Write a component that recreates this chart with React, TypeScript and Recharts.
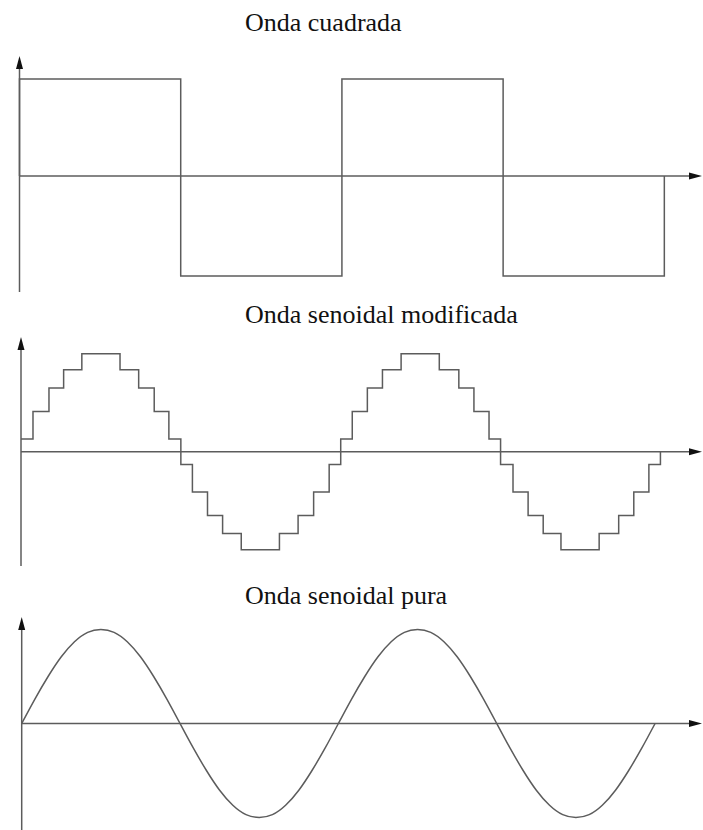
import { LineChart, Line, XAxis, YAxis, ReferenceLine, ReferenceDot } from "recharts";

const WIDTH = 703;
const HEIGHT = 830;
const WAVE = "#5c5c5c";
const ARROW = "#111111";

// Onda cuadrada: corner points (phase in degrees, level)
const SQUARE_DEG = [0, 0, 180, 180, 360, 360, 540, 540, 720, 720];
const SQUARE_LEVEL = [0, 0.98, 0.98, -1.01, -1.01, 0.98, 0.98, -1.01, -1.01, 0];

// Onda senoidal modificada: where each step starts, and the level it holds
const STEP_DEG = [
  0, 13.5, 31.5, 48, 68.5, 111.5, 132.5, 150, 166.5,
  180, 193, 210, 227, 248, 291, 312, 329.5, 347,
  360, 373, 390, 407, 428, 471, 493, 510, 527,
  540, 554, 571, 588, 608, 651, 673, 690, 707,
  720,
];
const STEP_LEVEL = [
  0.13, 0.41, 0.65, 0.835, 1, 0.835, 0.65, 0.41, 0.13,
  -0.13, -0.41, -0.65, -0.835, -1, -0.835, -0.65, -0.41, -0.13,
  0.13, 0.41, 0.65, 0.835, 1, 0.835, 0.65, 0.41, 0.13,
  -0.13, -0.41, -0.65, -0.835, -1, -0.835, -0.65, -0.41, -0.13,
  0,
];

// Onda senoidal pura: read every 15 degrees
const SINE_DEG = [
  0, 15, 30, 45, 60, 75, 90, 105, 120, 135, 150, 165,
  180, 195, 210, 225, 240, 255, 270, 285, 300, 315, 330, 345,
  360, 375, 390, 405, 420, 435, 450, 465, 480, 495, 510, 525,
  540, 555, 570, 585, 600, 615, 630, 645, 660, 675, 690, 705,
  720,
];
const SINE_LEVEL = [
  0, 0.26, 0.5, 0.71, 0.87, 0.97, 1, 0.97, 0.87, 0.71, 0.5, 0.26,
  0, -0.26, -0.5, -0.71, -0.87, -0.97, -1, -0.97, -0.87, -0.71, -0.5, -0.26,
  0, 0.26, 0.5, 0.71, 0.87, 0.97, 1, 0.97, 0.87, 0.71, 0.5, 0.26,
  0, -0.26, -0.5, -0.71, -0.87, -0.97, -1, -0.97, -0.87, -0.71, -0.5, -0.26,
  0,
];

type Curve = "linear" | "stepAfter" | "natural";

interface PanelProps {
  title: string;
  titleTop: number;
  top: number;
  height: number;
  originX: number;
  pxPerDeg: number;
  zeroY: number;
  pxPerUnit: number;
  arrowTipY: number;
  axisBottomY: number;
  deg: number[];
  level: number[];
  curve: Curve;
}

function UpArrow(props: any) {
  const { cx, cy } = props;
  if (cx == null || cy == null) return null;
  return <polygon points={`${cx},${cy} ${cx - 3.5},${cy + 13} ${cx + 3.5},${cy + 13}`} fill={ARROW} />;
}

function RightArrow(props: any) {
  const { cx, cy } = props;
  if (cx == null || cy == null) return null;
  return <polygon points={`${cx},${cy} ${cx - 13},${cy - 3.5} ${cx - 13},${cy + 3.5}`} fill={ARROW} />;
}

function WavePanel(p: PanelProps) {
  const data = p.deg.map((d, i) => ({ deg: d, v: p.level[i] }));
  const zeroLocal = p.zeroY - p.top;
  const xDomain = [-p.originX / p.pxPerDeg, (WIDTH - p.originX) / p.pxPerDeg];
  const yDomain = [-(p.height - zeroLocal) / p.pxPerUnit, zeroLocal / p.pxPerUnit];
  const toX = (px: number) => (px - p.originX) / p.pxPerDeg;
  const toY = (px: number) => (p.zeroY - px) / p.pxPerUnit;

  return (
    <>
      <div
        style={{
          position: "absolute",
          left: 245,
          top: p.titleTop,
          fontFamily: "'Liberation Serif', serif",
          fontSize: 26,
          lineHeight: "26px",
          color: "#111",
          whiteSpace: "nowrap",
        }}
      >
        {p.title}
      </div>
      <div style={{ position: "absolute", left: 0, top: p.top }}>
        <LineChart width={WIDTH} height={p.height} data={data} margin={{ top: 0, right: 0, bottom: 0, left: 0 }}>
          <XAxis dataKey="deg" type="number" domain={xDomain} allowDataOverflow hide />
          <YAxis type="number" domain={yDomain} allowDataOverflow hide />
          <ReferenceLine
            segment={[{ x: 0, y: toY(p.axisBottomY) }, { x: 0, y: toY(p.arrowTipY + 8) }]}
            stroke={WAVE}
            strokeWidth={1.5}
            ifOverflow="visible"
          />
          <ReferenceLine
            segment={[{ x: 0, y: 0 }, { x: toX(WIDTH - 8), y: 0 }]}
            stroke={WAVE}
            strokeWidth={1.5}
            ifOverflow="visible"
          />
          <Line
            type={p.curve}
            dataKey="v"
            stroke={WAVE}
            strokeWidth={1.5}
            dot={false}
            activeDot={false}
            isAnimationActive={false}
          />
          <ReferenceDot x={0} y={toY(p.arrowTipY)} r={0} ifOverflow="visible" shape={UpArrow} />
          <ReferenceDot x={toX(WIDTH - 1)} y={0} r={0} ifOverflow="visible" shape={RightArrow} />
        </LineChart>
      </div>
    </>
  );
}

export default function App() {
  return (
    <div style={{ position: "absolute", left: 0, top: 0, width: WIDTH, height: HEIGHT, background: "#fff", overflow: "hidden" }}>
      <WavePanel
        title="Onda cuadrada"
        titleTop={10}
        top={45}
        height={255}
        originX={19.5}
        pxPerDeg={0.8956}
        zeroY={176}
        pxPerUnit={99}
        arrowTipY={56}
        axisBottomY={292}
        deg={SQUARE_DEG}
        level={SQUARE_LEVEL}
        curve="linear"
      />
      <WavePanel
        title="Onda senoidal modificada"
        titleTop={301.5}
        top={330}
        height={245}
        originX={21}
        pxPerDeg={0.8881}
        zeroY={451.7}
        pxPerUnit={98}
        arrowTipY={337}
        axisBottomY={566}
        deg={STEP_DEG}
        level={STEP_LEVEL}
        curve="stepAfter"
      />
      <WavePanel
        title="Onda senoidal pura"
        titleTop={583}
        top={610}
        height={220}
        originX={21.7}
        pxPerDeg={0.8797}
        zeroY={723.5}
        pxPerUnit={94}
        arrowTipY={617}
        axisBottomY={830}
        deg={SINE_DEG}
        level={SINE_LEVEL}
        curve="natural"
      />
    </div>
  );
}
